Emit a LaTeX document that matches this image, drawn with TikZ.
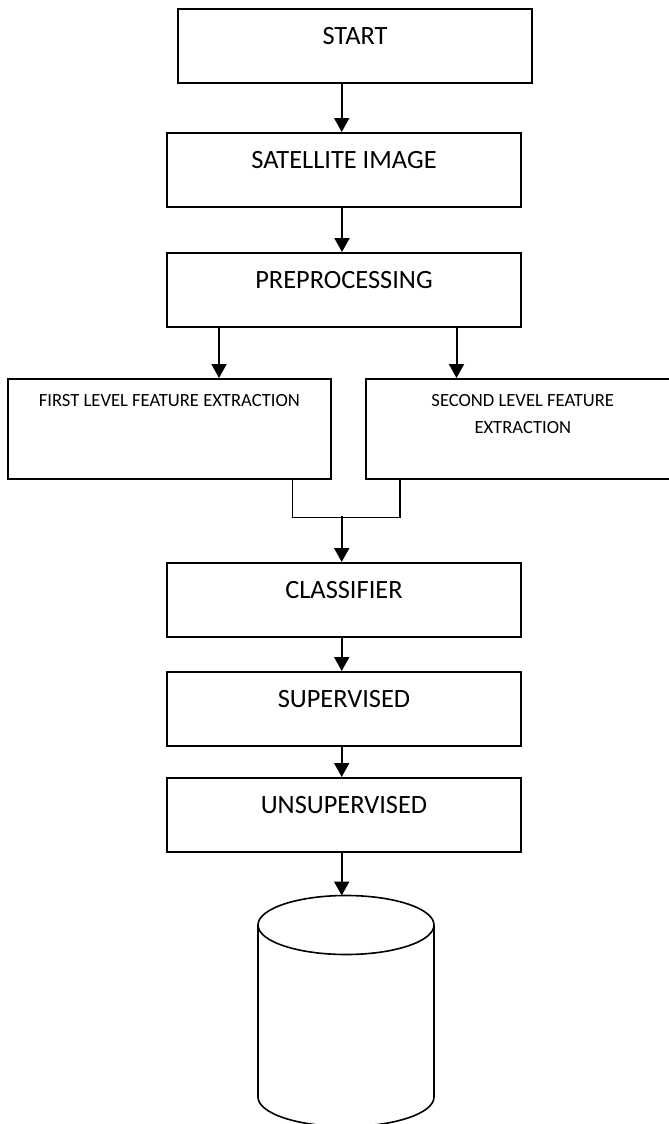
\documentclass[tikz,border=0pt]{standalone}
\usepackage{fontspec}
\setmainfont{Carlito}
\usetikzlibrary{arrows.meta}
\begin{document}
\begin{tikzpicture}[x=1pt,y=-1pt,
  stepbox/.style={draw, line width=1.6pt, minimum width=354pt, inner xsep=0pt, inner ysep=0pt,
    text height=35.5pt, text depth=38.5pt, anchor=north, font=\fontsize{26.4}{32}\selectfont},
  featbox/.style={draw, line width=1.6pt, inner xsep=0pt, inner ysep=0pt,
    text height=28pt, text depth=72pt, anchor=north, font=\fontsize{18.6}{26.7}\selectfont},
  flow/.style={line width=2pt, -{Triangle[length=14pt,width=15pt]}},
  link/.style={line width=1.5pt},
  dbline/.style={line width=1.6pt}]
\fill[white] (0,0) rectangle (669,1124);
\useasboundingbox (0,0) rectangle (669,1124);

\node[stepbox] (start) at (355,8) {START};
\node[stepbox] (sat) at (344,132) {SATELLITE IMAGE};
\node[stepbox] (pre) at (344,252) {PREPROCESSING};
\node[featbox, minimum width=323.3pt] (first) at (169.4,378) {FIRST LEVEL FEATURE EXTRACTION};
\node[featbox, minimum width=314pt] (second) at (522.8,378)
  {\begin{tabular}[t]{@{}c@{}}SECOND LEVEL FEATURE\\EXTRACTION\end{tabular}};
\node[stepbox] (cls) at (344,562) {CLASSIFIER};
\node[stepbox] (sup) at (344,671) {SUPERVISED};
\node[stepbox] (uns) at (344,777) {UNSUPERVISED};

% database cylinder
\draw[dbline] (346,925) ellipse [x radius=88pt, y radius=29.5pt];
\draw[dbline] (258,925) -- (258,1097) arc[start angle=180, end angle=360, x radius=88pt, y radius=29.5pt] -- (434,925);
\coordinate (dbtop) at (341.7,895.5);

% connectors
\draw[flow] ([xshift=-13.3pt]start.south) -- ([xshift=-13.3pt]start.south |- sat.north);
\draw[flow] ([xshift=-2pt]sat.south) -- ([xshift=-2pt]pre.north);
\draw[flow] ([xshift=-125pt]pre.south) -- ([xshift=-125pt]pre.south |- first.north);
\draw[flow] ([xshift=112.5pt]pre.south) -- ([xshift=112.5pt]pre.south |- second.north);
\draw[link] ([xshift=123.3pt]first.south) -- ++(0,37.7) -| ([xshift=-122.8pt]second.south);
\coordinate (merge) at (341.7,515.7);
\draw[flow] (merge) -- (merge |- cls.north);
\draw[flow] ([xshift=-2.3pt]cls.south) -- ([xshift=-2.3pt]sup.north);
\draw[flow] ([xshift=-2.3pt]sup.south) -- ([xshift=-2.3pt]uns.north);
\draw[flow] ([xshift=-2.3pt]uns.south) -- (dbtop);
\end{tikzpicture}
\end{document}
